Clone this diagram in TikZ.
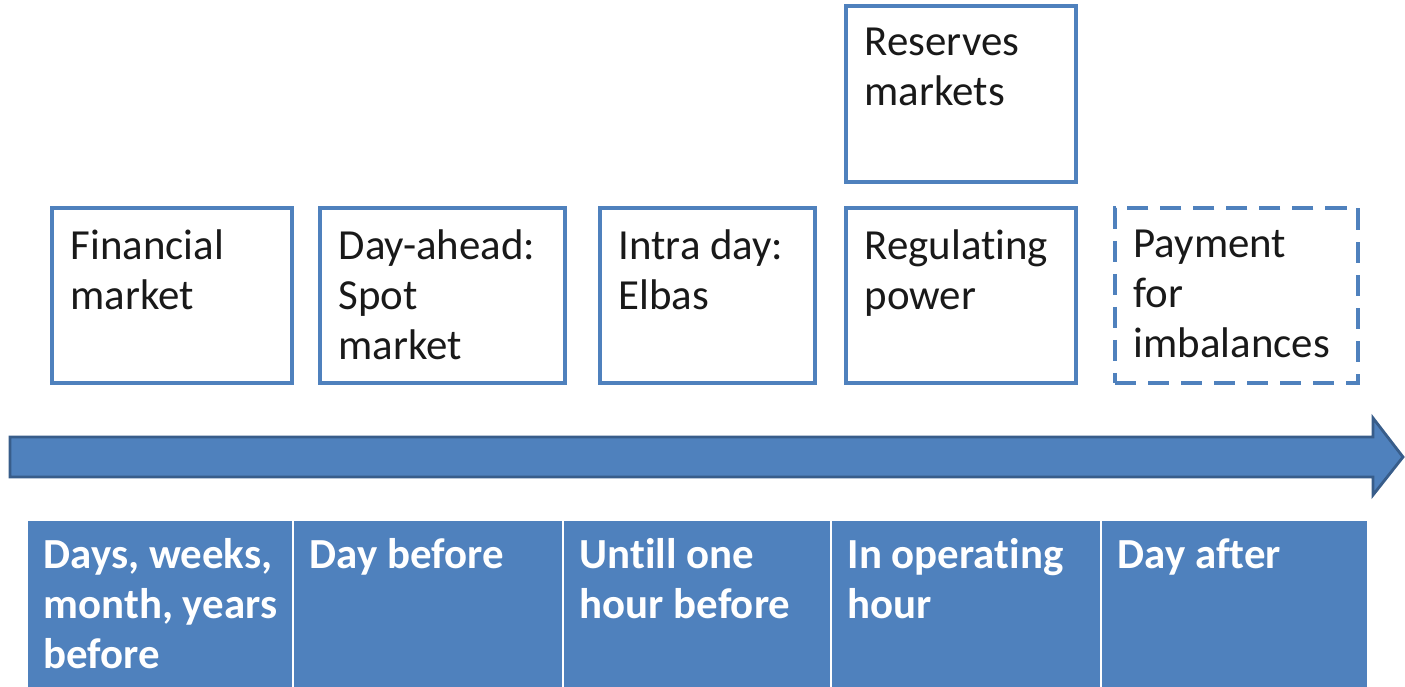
\documentclass[tikz,border=0pt]{standalone}
\usepackage{fontspec}
\setmainfont{Carlito}[Ligatures={NoCommon,NoRare,NoContextual}, Contextuals=NoAlternate]
\usetikzlibrary{shapes,arrows}
\definecolor{mktblue}{HTML}{4F81BD}
\definecolor{mktdark}{HTML}{385D8A}
\tikzstyle{market} = [rectangle, draw=mktblue, line width=0.9pt, fill=white, inner sep=0, outer sep=0, minimum height=1.75cm]
\tikzstyle{fict_market} = [market, dashed, dash pattern=on 6pt off 3.4pt, line width=1pt]
\tikzstyle{mtext} = [anchor=north west, align=left, inner sep=0, xshift=0.18cm, yshift=-0.21cm, text=black!90, font=\fontsize{12.2}{14.2}\selectfont]
\tikzstyle{period} = [rectangle, draw=white, line width=0.8pt, fill=mktblue, inner sep=0, outer sep=0, minimum height=1.76cm]
\tikzstyle{ptext} = [anchor=north west, align=left, inner sep=0, xshift=0.16cm, yshift=-0.18cm, text=white, font=\bfseries\fontsize{12.2}{14.2}\selectfont]

\begin{document}
\begin{tikzpicture}
\useasboundingbox (0,0) rectangle (14.05,6.86);

% markets
\node [market, minimum width=2.40cm] at (1.72,3.905) (fin) {};
\node [market, minimum width=2.45cm, right of=fin, node distance=2.705cm] (spot) {};
\node [market, minimum width=2.15cm, right of=spot, node distance=2.65cm] (elbas) {};
\node [market, minimum width=2.30cm, right of=elbas, node distance=2.535cm] (reg) {};
\node [market, minimum width=2.30cm, minimum height=1.76cm, above of=reg, node distance=2.015cm] (res) {};
\node [fict_market, minimum width=2.43cm, right of=reg, node distance=2.755cm] (pay) {};

\node [mtext] at (fin.north west) (fin_t) {Financial\\market};
\node [mtext] at (spot.north west) (spot_t) {Day-ahead:\\Spot\\market};
\node [mtext] at (elbas.north west) (elbas_t) {Intra day:\\Elbas};
\node [mtext] at (reg.north west) (reg_t) {Regulating\\power};
\node [mtext] at (res.north west) (res_t) {Reserves\\markets};
\node [mtext] at (pay.north west) (pay_t) {Payment\\for\\imbalances};

% time arrow
\filldraw [fill=mktblue, draw=mktdark, line width=0.8pt]
  (0.10,2.49) -- (13.73,2.49) -- (13.73,2.68) -- (14.03,2.29)
  -- (13.73,1.91) -- (13.73,2.09) -- (0.10,2.09) -- cycle;

% time periods (running off the bottom edge)
\node [period, minimum width=2.66cm] at (1.60,0.78) (p1) {};
\node [period, minimum width=2.70cm, right of=p1, node distance=2.68cm] (p2) {};
\node [period, minimum width=2.68cm, right of=p2, node distance=2.69cm] (p3) {};
\node [period, minimum width=2.70cm, right of=p3, node distance=2.69cm] (p4) {};
\node [period, minimum width=2.67cm, right of=p4, node distance=2.685cm] (p5) {};

\node [ptext] at (p1.north west) (p1_t) {Days, weeks,\\month, years\\before};
\node [ptext] at (p2.north west) (p2_t) {Day before};
\node [ptext] at (p3.north west) (p3_t) {Untill one\\hour before};
\node [ptext] at (p4.north west) (p4_t) {In operating\\hour};
\node [ptext] at (p5.north west) (p5_t) {Day after};

\end{tikzpicture}
\end{document}
